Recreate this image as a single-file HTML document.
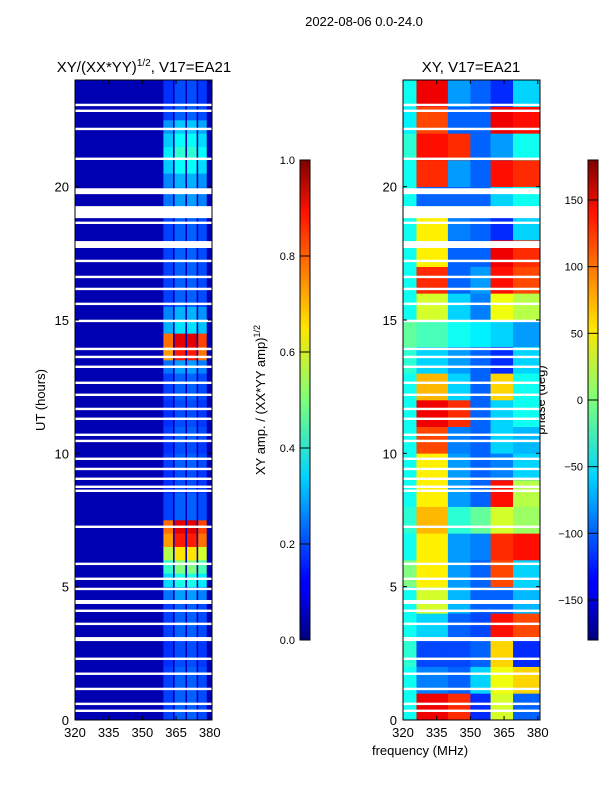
<!DOCTYPE html>
<html><head><meta charset="utf-8"><style>
body{margin:0;background:#fff;width:600px;height:800px;overflow:hidden}
svg text{font-family:"Liberation Sans","DejaVu Sans",sans-serif;fill:#000}
</style></head><body>
<svg id="fig" width="600" height="800" xmlns="http://www.w3.org/2000/svg">
<defs>
<linearGradient id="jet" x1="0" y1="1" x2="0" y2="0">
<stop offset="0" stop-color="#00007f"/><stop offset="0.11" stop-color="#0000ff"/><stop offset="0.125" stop-color="#0000ff"/>
<stop offset="0.34" stop-color="#00d4ff"/><stop offset="0.5" stop-color="#7dff7a"/><stop offset="0.65" stop-color="#ffe500"/>
<stop offset="0.89" stop-color="#ff1300"/><stop offset="1" stop-color="#7f0000"/>
</linearGradient>
</defs>
<text x="364" y="26" font-size="13" text-anchor="middle">2022-08-06 0.0-24.0</text>
<text x="144" y="72" font-size="15" text-anchor="middle">XY/(XX*YY)<tspan font-size="10" dy="-6">1/2</tspan><tspan dy="6">, V17=EA21</tspan></text>
<text x="471" y="72" font-size="15" text-anchor="middle">XY, V17=EA21</text>
<text x="420" y="755" font-size="13" text-anchor="middle">frequency (MHz)</text>
<text transform="translate(45,400) rotate(-90)" font-size="13" text-anchor="middle">UT (hours)</text>
<text transform="translate(265,400) rotate(-90)" font-size="13" text-anchor="middle">XY amp. / (XX*YY amp)<tspan font-size="9" dy="-5">1/2</tspan></text>
<text transform="translate(545,400) rotate(-90)" font-size="13" text-anchor="middle">phase (deg)</text>
<g id="left"></g><g id="right"></g><g id="cbars"></g>
</svg>
<script>
// ---- data ----
const hourTicks=[0,5,10,15,20];
const freqTicks=[320,335,350,365,380];
// left: amplitude of the bright band per half hour (0h..23.5h)
const ampBand=[0.22,0.22,0.22,0.22,0.2,0.2,0.22,0.22,0.22,0.28,0.4,0.5,0.65,0.85,0.9,0.22,0.22,0.2,0.2,0.22,0.2,0.22,0.2,0.2,0.22,0.22,0.28,0.85,0.9,0.35,0.3,0.22,0.22,0.22,0.22,0.22,0.22,0.22,0.28,0.28,0.3,0.38,0.42,0.38,0.32,0.22,0.2,0.2];
const ampBase=0.05;
const bandEdges=[359,364,369.5,374.5,379];
const bandScale=[0.85,1,1,0.9];
// right: phase (deg) per hour, freq bins
const phaseBins=[320,326,340,350,359,369,381];
const phase=[
[-40,140,120,-120,30,-100],[-40,-90,-100,-60,40,60],[-30,-110,-110,-100,60,-120],[-40,-60,-100,-110,130,110],
[-40,30,-70,-100,-100,-70],[0,50,-80,-100,110,-60],[-40,50,-80,-90,120,130],[-30,70,-30,-10,30,10],
[-40,50,-80,-100,130,20],[-40,50,-80,-100,-90,-60],[-40,110,-90,-100,-60,-70],[-40,140,120,-100,-60,-40],
[-40,70,-60,-100,60,-40],[-30,-60,-80,-100,-120,-60],[-10,-20,-40,-50,-60,-80],[-40,30,-60,-90,40,20],
[-40,120,-100,-80,130,110],[-40,50,-100,-100,140,120],[-40,50,-90,-100,-120,-60],[-40,-100,-100,-100,-60,-40],
[-40,120,-80,-100,130,120],[-30,130,120,-100,-80,-40],[-50,110,-100,-100,140,130],[-40,140,-80,-100,-120,-60]];
// blank (flagged) rows: [start hour, width hours]
const gaps=[[23.02,.09],[22.8,.09],[22.12,.09],[21.0,.09],[19.72,.22],[18.82,.45],[18.6,.09],[17.7,.26],[17.17,.09],[16.57,.09],[16.12,.09],[15.56,.09],[14.92,.09],[13.87,.09],[13.57,.09],[13.2,.09],[12.6,.09],[12.15,.09],[11.62,.09],[11.25,.09],[10.65,.09],[10.42,.09],[9.75,.09],[9.37,.09],[9.0,.09],[8.7,.09],[8.55,.09],[7.2,.09],[5.81,.09],[5.25,.09],[4.87,.09],[4.35,.15],[4.05,.09],[3.56,.09],[2.96,.15],[2.25,.09],[1.69,.09],[1.12,.09],[0.56,.09],[0.3,.09]];
const ampTicks=[0,0.2,0.4,0.6,0.8,1.0];
const phaseTicks=[-150,-100,-50,0,50,100,150];
// ---- helpers ----
const NS="http://www.w3.org/2000/svg";
const Y0=80,Y1=720,XMIN=320,XMAX=381;
const yH=h=>Y1-(h/24)*(Y1-Y0);
function xF(x0,x1){return f=>x0+(f-XMIN)/(XMAX-XMIN)*(x1-x0);}
function jet(v){v=Math.max(0,Math.min(1,v));
 const r=Math.max(0,Math.min(1,1.5-Math.abs(4*v-3))),g=Math.max(0,Math.min(1,1.5-Math.abs(4*v-2))),b=Math.max(0,Math.min(1,1.5-Math.abs(4*v-1)));
 return `rgb(${Math.round(r*255)},${Math.round(g*255)},${Math.round(b*255)})`;}
function mk(tag,attrs,parent){const e=document.createElementNS(NS,tag);for(const k in attrs)e.setAttribute(k,attrs[k]);parent.appendChild(e);return e;}
function axes(g,x0,x1,name){
 const xs=xF(x0,x1);
 for(const gp of gaps){const r=mk('rect',{x:x0,y:yH(gp[0]+gp[1]),width:x1-x0,height:yH(gp[0])-yH(gp[0]+gp[1]),fill:'#fff'},g);
  
  }
 const fr=mk('rect',{x:x0,y:Y0,width:x1-x0,height:Y1-Y0,fill:'none',stroke:'#000','stroke-width':1},g);
 
 
 for(const t of hourTicks){const y=yH(t);
  mk('line',{x1:x0,x2:x0+4,y1:y,y2:y,stroke:'#000'},g);mk('line',{x1:x1,x2:x1-4,y1:y,y2:y,stroke:'#000'},g);
  const tx=mk('text',{x:x0-6,y:y+5,'font-size':13,'text-anchor':'end'},g);tx.textContent=t;
  
  }
 for(const t of freqTicks){const x=xs(t);
  mk('line',{x1:x,x2:x,y1:Y1,y2:Y1-4,stroke:'#000'},g);mk('line',{x1:x,x2:x,y1:Y0,y2:Y0+4,stroke:'#000'},g);
  const tx=mk('text',{x:x,y:Y1+17,'font-size':13,'text-anchor':'middle'},g);tx.textContent=t;
  
  }
}
// ---- left heatmap ----
(function(){const g=document.getElementById('left');const x0=75,x1=212,xs=xF(x0,x1);
 
 
 const bg=mk('rect',{x:x0,y:Y0,width:x1-x0,height:Y1-Y0,fill:jet(ampBase)},g);
 
 
 for(let i=0;i<ampBand.length;i++){for(let b=0;b<bandScale.length;b++){
  const c=mk('rect',{x:xs(bandEdges[b])+0.8,y:yH((i+1)/2),width:xs(bandEdges[b+1])-xs(bandEdges[b])-1.6,height:yH(i/2)-yH((i+1)/2)+0.3,fill:jet(ampBand[i]*bandScale[b])},g);
  
  }}
 axes(g,x0,x1,'left-axes');})();
// ---- right heatmap ----
(function(){const g=document.getElementById('right');const x0=403,x1=540,xs=xF(x0,x1);
 
 
 for(let h=0;h<phase.length;h++){for(let b=0;b<phase[h].length;b++){
  const c=mk('rect',{x:xs(phaseBins[b]),y:yH(h+1),width:xs(phaseBins[b+1])-xs(phaseBins[b])+0.3,height:yH(h)-yH(h+1)+0.3,fill:jet((phase[h][b]+180)/360)},g);
  
  }}
 axes(g,x0,x1,'right-axes');})();
// ---- colorbars ----
(function(){const g=document.getElementById('cbars');const T=160,B=640;
 function cbar(x,ticks,lo,hi,fmt,name){
  const r=mk('rect',{x:x,y:T,width:10,height:B-T,fill:'url(#jet)',stroke:'#000','stroke-width':1},g);
  
  
  for(const t of ticks){const y=B-(t-lo)/(hi-lo)*(B-T);
   mk('line',{x1:x,x2:x+10,y1:y,y2:y,stroke:'#000'},g);
   const tx=mk('text',{x:x-5,y:y+4,'font-size':11,'text-anchor':'end'},g);tx.textContent=fmt(t);
   
   }}
 cbar(300,ampTicks,0,1,t=>t.toFixed(1),'amplitude-colorbar');
 cbar(588,phaseTicks,-180,180,t=>String(t).replace('-','\u2212'),'phase-colorbar');})();
</script>
</body></html>
